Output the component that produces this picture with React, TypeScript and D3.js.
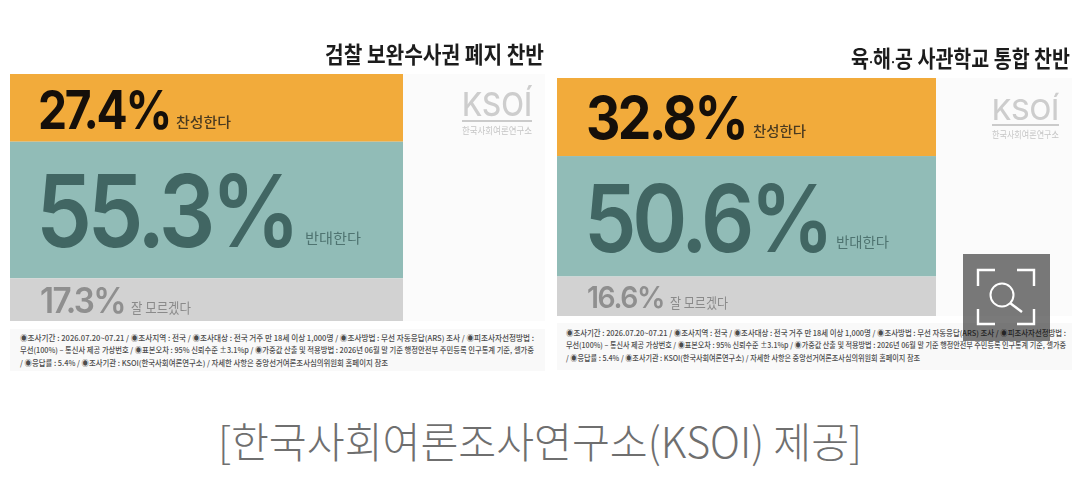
import React from 'react';
import * as d3 from 'd3';

const categories = ['찬성한다', '반대한다', '잘 모르겠다'];
const leftValues = [27.4, 55.3, 17.3];
const rightValues = [32.8, 50.6, 16.6];
const barColors = ['#f2ab3b', '#91bcb7', '#d2d2d2'];
const valueColors = ['#150f0a', '#416663', '#8f8f8f'];
const labelColors = ['#4a3a20', '#4f7471', '#8a8a8a'];
const noteLines = [
  '◉조사기간 : 2026.07.20~07.21 / ◉조사지역 : 전국 / ◉조사대상 : 전국 거주 만 18세 이상 1,000명 / ◉조사방법 : 무선 자동응답(ARS) 조사 / ◉피조사자선정방법 :',
  '무선(100%) – 통신사 제공 가상번호 / ◉표본오차 : 95% 신뢰수준 ±3.1%p / ◉가중값 산출 및 적용방법 : 2026년 06월 말 기준 행정안전부 주민등록 인구통계 기준, 셀가중',
  '/ ◉응답률 : 5.4% / ◉조사기관 : KSOI(한국사회여론연구소) / 자세한 사항은 중앙선거여론조사심의위원회 홈페이지 참조',
];
const KR = '"Noto Sans CJK KR", sans-serif';
const NUM = 'Inter, "Noto Sans CJK KR", sans-serif';
const valueWeights = [700, 600, 600];

const Panel = (p: any) => {
  const y = d3.scaleLinear().domain([0, 100]).range([p.y0, p.y1]);
  // one-row stack, the three answers pile up from the top
  const table = [Object.fromEntries(categories.map((c, i) => [c, p.values[i]]))];
  const layers = d3.stack<any, string>().keys(categories)(table);
  return (
    <g style={{ filter: 'blur(0.45px)' }}>
      <text x={p.titleRight} y={p.titleY} textAnchor="end" textLength={p.titleW} lengthAdjust="spacingAndGlyphs" fontFamily={KR} fontWeight={700} fontSize={22.5} fill="#1c1c1c">{p.title}</text>
      <rect x={p.cardX} y={p.y0} width={p.cardW} height={p.y1 - p.y0} fill="#fbfbfb" />
      {layers.map((layer, i) => (
        <g key={layer.key}>
          <rect x={p.x0} y={y(layer[0][0])} width={p.x1 - p.x0} height={y(layer[0][1]) - y(layer[0][0])} fill={barColors[i]} />
          <text x={p.valueX[i]} y={p.valueY[i]} textLength={p.valueW[i]} lengthAdjust="spacingAndGlyphs" letterSpacing={-p.sizes[i] * 0.05} fontFamily={NUM} fontWeight={valueWeights[i]} fontSize={p.sizes[i]} fill={valueColors[i]}>{d3.format('.1f')(p.values[i])}%</text>
          <text x={p.labelX[i]} y={p.labelY[i]} textLength={p.labelW[i]} lengthAdjust="spacingAndGlyphs" fontFamily={KR} fontWeight={i === 0 ? 500 : 400} fontSize={13.5} fill={labelColors[i]}>{layer.key}</text>
        </g>
      ))}
      <g transform={`translate(${p.logoX},0)`}>
        <text x={0} y={p.logoBase} textLength={p.logoW} lengthAdjust="spacingAndGlyphs" fontFamily={NUM} fontWeight={500} fontSize={p.logoSize} fill="#cdcdcd">KSOÍ</text>
        <line x1={0} x2={p.logoW} y1={p.logoBase + 5} y2={p.logoBase + 5} stroke="#cbcbcb" strokeWidth={1.8} />
        <text x={0} y={p.logoBase + 18} textLength={p.logoW} lengthAdjust="spacingAndGlyphs" fontFamily={KR} fontSize={9.5} fill="#c6c6c6">한국사회여론연구소</text>
      </g>
      <rect x={p.noteBox[0]} y={p.noteBox[1]} width={p.noteBox[2]} height={p.noteBox[3]} fill="#f9f9f9" />
      {noteLines.map((line, i) => (
        <text key={i} x={p.noteX} y={p.noteY + i * 12.3} textLength={p.noteW[i]} lengthAdjust="spacingAndGlyphs" fontFamily={KR} fontWeight={500} fontSize={7.6} fill="#4c4c4c">{line}</text>
      ))}
    </g>
  );
};

export default function App() {
  const dot = <tspan fontFamily="Inter" fontSize={14}>·</tspan>;
  return (
    <svg width={1080} height={491} style={{ position: 'absolute', left: 0, top: 0, background: '#fff' }}>
      <Panel
        title="검찰 보완수사권 폐지 찬반" titleRight={544} titleY={63} titleW={219}
        values={leftValues} x0={10} x1={403} y0={74} y1={321}
        sizes={[53, 100, 35]} valueX={[38, 36, 40]} valueY={[129, 247, 313]} valueW={[132, 260, 85]}
        labelX={[176, 305, 131]} labelY={[127, 243, 313]} labelW={[55, 56, 60]}
        cardX={10} cardW={535} logoX={462} logoBase={116} logoSize={33} logoW={70}
        noteX={20} noteY={341} noteW={[514, 514, 368]} noteBox={[10, 329, 535, 42]}
      />
      <Panel
        title={<>육{dot}해{dot}공 사관학교 통합 찬반</>} titleRight={1070} titleY={67} titleW={219}
        values={rightValues} x0={557} x1={936} y0={78} y1={316}
        sizes={[59, 93, 30]} valueX={[586, 584, 587]} valueY={[139, 252, 308]} valueW={[160, 246, 77]}
        labelX={[753, 836, 670]} labelY={[136, 247, 308]} labelW={[53, 53, 58]}
        cardX={557} cardW={515} logoX={992} logoBase={120} logoSize={29} logoW={67}
        noteX={566} noteY={336} noteW={[500, 500, 354]} noteBox={[557, 323, 515, 47]}
      />
      <rect x={963} y={254} width={87} height={87} fill="#000000" fillOpacity={0.52} />
      <g fill="none" stroke="#ffffff" strokeWidth={2.4} style={{ filter: 'blur(0.35px)' }}>
        <path d="M995 270H978V286" />
        <path d="M1017 270H1034V286" />
        <path d="M978 309V324H995" />
        <path d="M1034 309V324H1017" />
        <circle cx={1002} cy={295} r={11.5} strokeWidth={2} />
        <path d="M1010 303L1022 312" />
      </g>
      <text x={540} y={458} textAnchor="middle" textLength={644} lengthAdjust="spacingAndGlyphs" fontFamily={KR} fontWeight={300} fontSize={42} fill="#6f6f6f">[한국사회여론조사연구소(KSOI) 제공]</text>
    </svg>
  );
}
